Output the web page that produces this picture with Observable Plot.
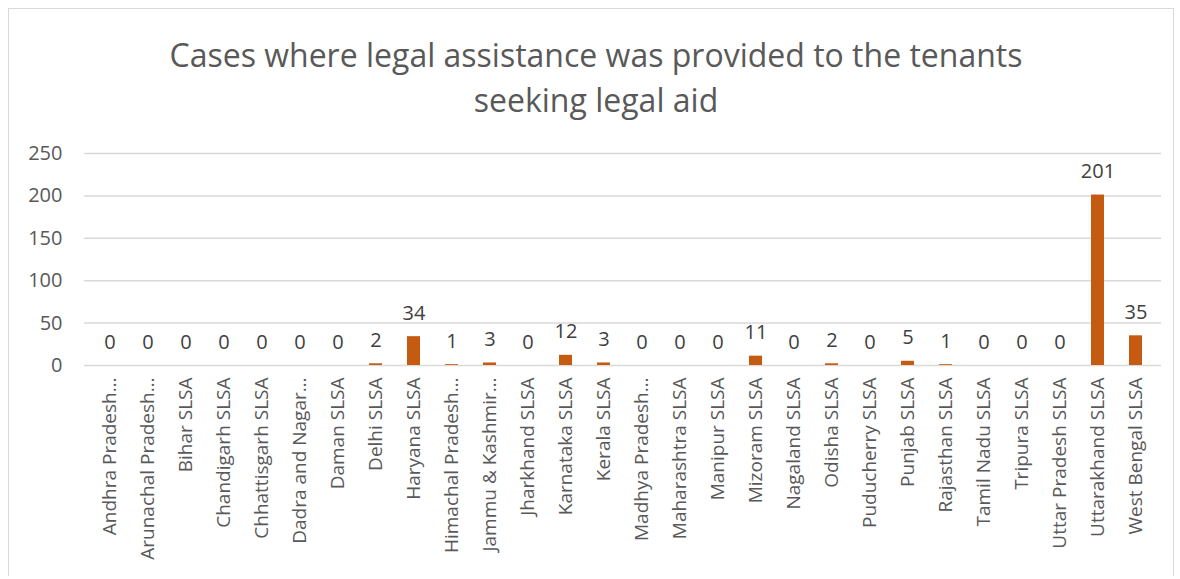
<!DOCTYPE html>
<html>
<head>
<meta charset="utf-8">
<script src="https://cdn.jsdelivr.net/npm/d3@7"></script>
<script src="https://cdn.jsdelivr.net/npm/@observablehq/plot@0.6"></script>
<style>
  html, body { margin: 0; padding: 0; background: #fff; }
  #frame {
    position: absolute; left: 8px; top: 8px; width: 1166px; height: 568px;
    border: 1px solid #d9d9d9; border-bottom: none; box-sizing: border-box; background: #fff;
  }
  #title {
    position: absolute; left: 6px; top: 32px; width: 1180px; text-align: center;
    font-family: "Open Sans", sans-serif; font-size: 32px; line-height: 45px; color: #595959;
  }
  #chart { position: absolute; left: 0; top: 130px; }
</style>
</head>
<body>
<div id="frame"></div>
<div id="title">Cases where legal assistance was provided to the tenants<br>seeking legal aid</div>
<div id="chart"></div>
<script>
const categories = [
  "Andhra Pradesh SLSA", "Arunachal Pradesh SLSA", "Bihar SLSA", "Chandigarh SLSA",
  "Chhattisgarh SLSA", "Dadra and Nagar Haveli SLSA", "Daman SLSA", "Delhi SLSA",
  "Haryana SLSA", "Himachal Pradesh SLSA", "Jammu & Kashmir SLSA", "Jharkhand SLSA",
  "Karnataka SLSA", "Kerala SLSA", "Madhya Pradesh SLSA", "Maharashtra SLSA",
  "Manipur SLSA", "Mizoram SLSA", "Nagaland SLSA", "Odisha SLSA", "Puducherry SLSA",
  "Punjab SLSA", "Rajasthan SLSA", "Tamil Nadu SLSA", "Tripura SLSA",
  "Uttar Pradesh SLSA", "Uttarakhand SLSA", "West Bengal SLSA"
];
const values = [0, 0, 0, 0, 0, 0, 0, 2, 34, 1, 3, 0, 12, 3, 0, 0, 0, 11, 0, 2, 0, 5, 1, 0, 0, 0, 201, 35];
const tickLabels = [
  "Andhra Pradesh…", "Arunachal Pradesh…", "Bihar SLSA", "Chandigarh SLSA",
  "Chhattisgarh SLSA", "Dadra and Nagar…", "Daman SLSA", "Delhi SLSA",
  "Haryana SLSA", "Himachal Pradesh…", "Jammu & Kashmir…", "Jharkhand SLSA",
  "Karnataka SLSA", "Kerala SLSA", "Madhya Pradesh…", "Maharashtra SLSA",
  "Manipur SLSA", "Mizoram SLSA", "Nagaland SLSA", "Odisha SLSA", "Puducherry SLSA",
  "Punjab SLSA", "Rajasthan SLSA", "Tamil Nadu SLSA", "Tripura SLSA",
  "Uttar Pradesh SLSA", "Uttarakhand SLSA", "West Bengal SLSA"
];
const yTicks = [0, 50, 100, 150, 200, 250];

const data = categories.map((c, i) => ({category: c, value: values[i]}));
const labelOf = new Map(categories.map((c, i) => [c, tickLabels[i]]));

const chart = Plot.plot({
  width: 1180,
  height: 440,
  marginLeft: 84,
  marginRight: 19,
  marginTop: 23,
  marginBottom: 205,
  style: {fontFamily: "Open Sans, sans-serif", fontSize: "20px", color: "#595959", background: "transparent"},
  x: {domain: categories, paddingInner: 0.66, paddingOuter: 0.33, label: null},
  y: {domain: [0, 250], label: null},
  marks: [
    Plot.gridY(yTicks, {stroke: "#d9d9d9", strokeOpacity: 1, strokeWidth: 1.5}),
    Plot.axisY(yTicks, {tickSize: 0, tickPadding: 22, fill: "#595959", fontSize: 20}),
    Plot.axisX({tickRotate: -90, tickSize: 0, tickPadding: 12, tickFormat: d => labelOf.get(d), fill: "#595959", fontSize: 19}),
    Plot.barY(data, {x: "category", y: "value", fill: "#C55A11"}),
    Plot.text(data, {x: "category", y: "value", text: d => String(d.value), dy: -17, lineAnchor: "bottom", fill: "#404040", fontSize: 20})
  ]
});
document.getElementById("chart").appendChild(chart);
</script>
</body>
</html>
